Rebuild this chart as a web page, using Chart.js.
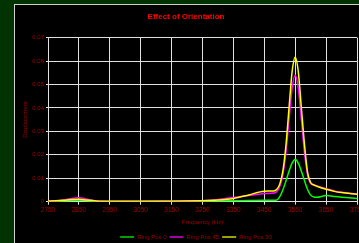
<!DOCTYPE html>
<html>
<head>
<meta charset="utf-8">
<script src="https://cdn.jsdelivr.net/npm/chart.js@4/dist/chart.umd.min.js"></script>
<style>
  html, body { margin: 0; padding: 0; background: #003300; overflow: hidden; width: 359px; height: 243px; }
  #panel { position: absolute; left: 14px; top: 4px; width: 354px; height: 250px; background: #000; border: 1px solid #d0d0d0; }
  #c { position: absolute; left: 0; top: 0; }
</style>
</head>
<body>
<div id="panel"><canvas id="c" width="354" height="250"></canvas></div>
<script>
const frequencies = [2750, 2775, 2800, 2825, 2850, 2875, 2900, 2925, 2950, 3050, 3150, 3250, 3300, 3350, 3400, 3450, 3480, 3490, 3500, 3510, 3520, 3530, 3540, 3550, 3560, 3570, 3580, 3590, 3600, 3610, 3620, 3650, 3680, 3700, 3750];
const ringPos0  = [0.0002, 0.0002, 0.0003, 0.0005, 0.0006, 0.0004, 0.0002, 0.0001, 0.0001, 0.0001, 0.0002, 0.0003, 0.0003, 0.0004, 0.0005, 0.0006, 0.0006, 0.0007, 0.0022, 0.005, 0.0088, 0.013, 0.0165, 0.018, 0.0165, 0.013, 0.009, 0.0052, 0.0028, 0.002, 0.0019, 0.0026, 0.0022, 0.0019, 0.0014];
const ringPos45 = [0.0002, 0.0003, 0.0007, 0.0014, 0.0017, 0.0011, 0.0004, 0.0002, 0.0001, 0.0001, 0.0002, 0.0004, 0.0009, 0.0018, 0.0026, 0.0035, 0.0037, 0.0042, 0.0065, 0.0115, 0.021, 0.035, 0.0485, 0.054, 0.0485, 0.035, 0.021, 0.0115, 0.0078, 0.0072, 0.0067, 0.0055, 0.0045, 0.004, 0.0033];
const ringPos90 = [0.0003, 0.0004, 0.0006, 0.0009, 0.001, 0.0007, 0.0004, 0.0002, 0.0002, 0.0002, 0.0002, 0.0004, 0.0007, 0.0014, 0.0029, 0.0045, 0.0046, 0.0052, 0.0075, 0.013, 0.024, 0.04, 0.0555, 0.0618, 0.0555, 0.04, 0.0245, 0.0125, 0.0082, 0.0072, 0.0066, 0.0053, 0.0043, 0.0039, 0.0032];
const seriesNames = ['Ring Pos 0', 'Ring Pos 45', 'Ring Pos 90'];
const xTicks = [2750, 2850, 2950, 3050, 3150, 3250, 3350, 3450, 3550, 3650, 3750];
const yTicks = [0, 0.01, 0.02, 0.03, 0.04, 0.05, 0.06, 0.07];

const FONT = "'Liberation Sans', Arial, sans-serif";
const LABEL = '#a00000';
const GRID = '#e0e0e0';
const lineColors = ['#00ff00', '#ff00ff', '#ffff00'];
const legendColors = ['#00a000', '#a000a0', '#a0a000'];
const seriesData = [ringPos0, ringPos45, ringPos90];

const datasets = seriesData.map((vals, i) => ({
  label: seriesNames[i],
  data: frequencies.map((f, j) => ({ x: f, y: vals[j] })),
  borderColor: lineColors[i],
  backgroundColor: legendColors[i],
  borderWidth: 1.5,
  pointRadius: 0,
  cubicInterpolationMode: 'monotone',
  fill: false,
  order: 2 - i
}));

const legendShift = {
  id: 'legendShift',
  afterLayout(chart) {
    if (chart.legend) { chart.legend.left += 10; chart.legend.right += 10; }
  }
};

new Chart(document.getElementById('c'), {
  type: 'line',
  data: { datasets },
  plugins: [legendShift],
  options: {
    responsive: false,
    animation: false,
    layout: { padding: { left: 0, right: 12, top: 0, bottom: 5 } },
    plugins: {
      title: {
        display: true,
        text: 'Effect of Orientation',
        color: '#ff0000',
        font: { family: FONT, size: 8, weight: 'bold' },
        padding: { top: 7, bottom: 16.1 }
      },
      legend: {
        position: 'bottom',
        labels: {
          color: LABEL,
          font: { family: FONT, size: 6 },
          boxWidth: 14,
          boxHeight: 2,
          padding: 3,
          generateLabels(chart) {
            return chart.data.datasets.map((ds, i) => ({
              text: ds.label,
              fillStyle: legendColors[i],
              strokeStyle: legendColors[i],
              lineWidth: 0,
              fontColor: LABEL,
              hidden: false,
              datasetIndex: i
            }));
          }
        }
      },
      tooltip: { enabled: false }
    },
    scales: {
      x: {
        type: 'linear',
        min: 2750,
        max: 3750,
        afterBuildTicks(scale) { scale.ticks = xTicks.map(v => ({ value: v })); },
        afterFit(scale) { scale.height = 29.3; },
        ticks: {
          color: LABEL,
          font: { family: FONT, size: 6.5 },
          padding: 2,
          maxRotation: 0,
          autoSkip: false,
          callback: v => String(v)
        },
        grid: { color: GRID, lineWidth: 1, tickLength: 3, tickColor: GRID },
        border: { color: GRID, width: 1 },
        title: {
          display: true,
          text: 'Frequency (Hz)',
          color: LABEL,
          font: { family: FONT, size: 6 },
          padding: { top: 0, bottom: 5.4 }
        }
      },
      y: {
        min: 0,
        max: 0.07,
        afterBuildTicks(scale) { scale.ticks = yTicks.map(v => ({ value: v })); },
        afterFit(scale) { scale.width = 33; },
        ticks: {
          color: LABEL,
          font: { family: FONT, size: 6 },
          padding: 2,
          autoSkip: false,
          callback: v => String(+v.toFixed(2))
        },
        grid: { color: GRID, lineWidth: 1, tickLength: 2, tickColor: GRID },
        border: { color: GRID, width: 1 },
        title: {
          display: true,
          text: 'Displacement',
          color: LABEL,
          font: { family: FONT, size: 6 },
          padding: { top: 6.4, bottom: 6.4 }
        }
      }
    }
  }
});
</script>
</body>
</html>
